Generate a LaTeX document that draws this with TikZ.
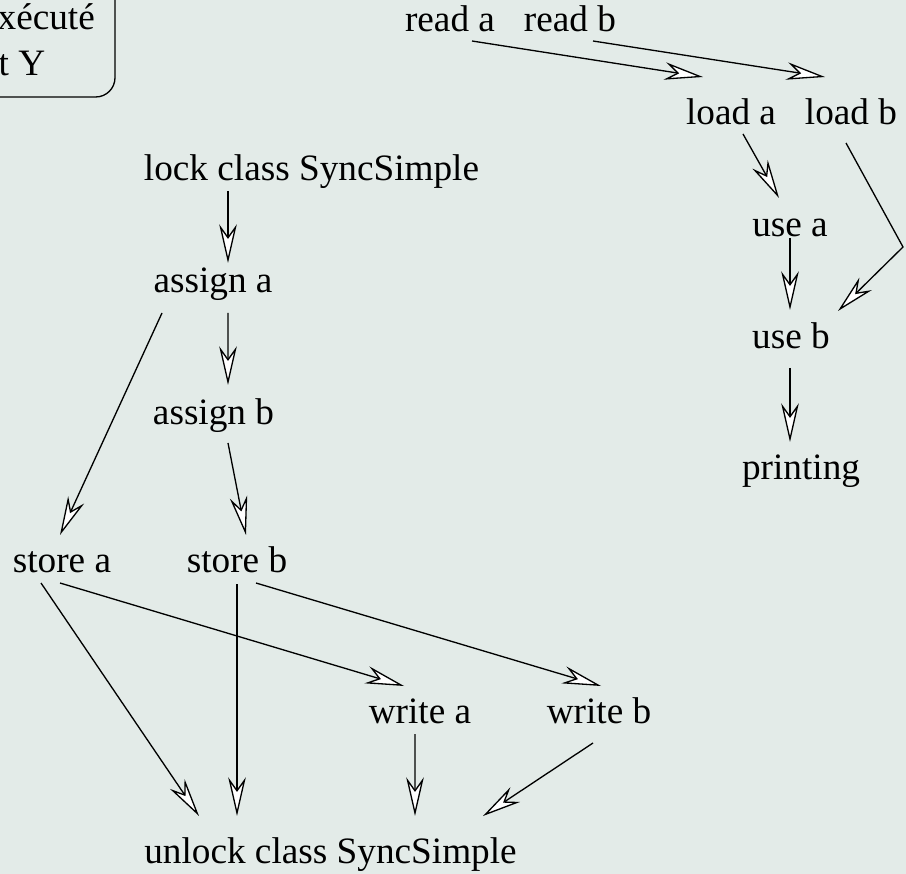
\documentclass[tikz,border=0pt]{standalone}
\usepackage{fontspec}
\setmainfont{Liberation Serif}
\usetikzlibrary{arrows.meta,calc}
\definecolor{bg}{RGB}{227,235,232}

\begin{document}
\begin{tikzpicture}[x=0.02cm,y=-0.02cm,line width=0.75pt,
  >={Stealth[length=22pt,width=10pt,inset=7pt,fill=white]},
  lbl/.style={anchor=base,inner sep=0pt,font=\fontsize{21.2}{25}\selectfont}]
\useasboundingbox[fill=bg] (0,0) rectangle (906,874);
\clip (0,0) rectangle (906,874);

% note in the corner
\draw[rounded corners=11pt] (-60,-60) rectangle (115,97);
\node[lbl,anchor=base west] (note1) at (-3,30) {xécuté};
\node[lbl,anchor=base west] (note2) at (-2,76) {t Y};

% thread on the right
\node[lbl] (ra) at (450,32) {read a};
\node[lbl] (rb) at (570,32) {read b};
\node[lbl] (la) at (731,125) {load a};
\node[lbl] (lb) at (851,125) {load b};
\node[lbl] (ua) at (790,237) {use a};
\node[lbl] (ub) at (791,349) {use b};
\node[lbl] (pr) at (801,480) {printing};

% synchronized thread
\node[lbl] (lock) at (311.5,181) {lock class SyncSimple};
\node[lbl] (aa) at (213,293) {assign a};
\node[lbl] (ab) at (213.5,425) {assign b};
\node[lbl] (sa) at (62,573) {store a};
\node[lbl] (sb) at (237,573) {store b};
\node[lbl] (wa) at (420,723) {write a};
\node[lbl] (wb) at (599,723) {write b};
\node[lbl] (unlock) at (330.5,863) {unlock class SyncSimple};

\draw[->] ($(ra.base)+(22,9)$) -- ($(la.base)+(-28,-48)$);
\draw[->] ($(rb.base)+(23,9)$) -- ($(lb.base)+(-26,-48)$);
\draw[->] ($(la.base)+(12,9)$) -- ($(ua.base)+(-11,-39)$);
\draw[->] ($(lb.base)+(-5,18)$) -- ++(57,104) -- ($(ub.base)+(47,-38)$);
\draw[->] ($(ua.base)+(0,1)$) -- ($(ub.base)+(-1,-39)$);
\draw[->] ($(ub.base)+(-1,19)$) -- ($(pr.base)+(-11,-38)$);

\draw[->] ($(lock.base)+(-83.5,10)$) -- ($(aa.base)+(15,-30)$);
\draw[->] ($(aa.base)+(15,20)$) -- ($(ab.base)+(14.5,-40)$);
\draw[->] ($(aa.base)+(-51,20)$) -- ($(sa.base)+(-2,-38)$);
\draw[->] ($(ab.base)+(14.5,18)$) -- ($(sb.base)+(9,-38)$);
\draw[->] ($(sa.base)+(-21,10)$) -- ($(unlock.base)+(-131.5,-47)$);
\draw[->] ($(sb.base)+(0,11)$) -- ($(unlock.base)+(-93.5,-47)$);
\draw[->] ($(sa.base)+(-2,10)$) -- ($(wa.base)+(-16,-37)$);
\draw[->] ($(sb.base)+(19,10)$) -- ($(wb.base)+(2,-37)$);
\draw[->] ($(wa.base)+(-5,11)$) -- ($(unlock.base)+(84.5,-47)$);
\draw[->] ($(wb.base)+(-6,20)$) -- ($(unlock.base)+(152.5,-47)$);
\end{tikzpicture}
\end{document}
